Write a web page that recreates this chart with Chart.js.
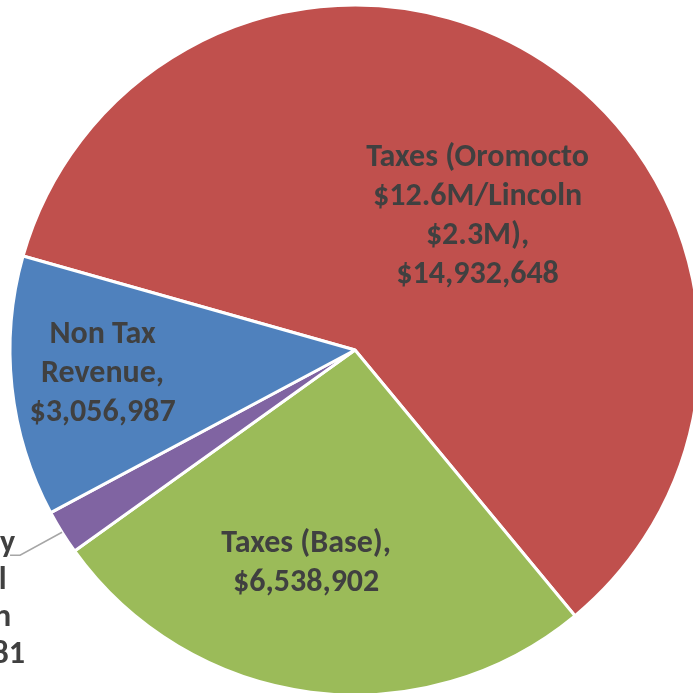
<!DOCTYPE html>
<html>
<head>
<meta charset="utf-8">
<script src="https://cdn.jsdelivr.net/npm/chart.js@4/dist/chart.umd.min.js"></script>
<style>
  html, body { margin: 0; padding: 0; background: #fff; overflow: hidden; width: 693px; height: 693px; }
  #wrap { position: absolute; left: -5px; top: -10px; width: 720px; height: 720px; }
</style>
</head>
<body>
<div id="wrap"><canvas id="revenuePie"></canvas></div>
<script>
// Revenue sources (order = clockwise from the red slice)
const labels = [
  ['Taxes (Oromocto', '$12.6M/Lincoln', '$2.3M),', '$14,932,648'],
  ['Taxes (Base),', '$6,538,902'],
  ['Subsidy', 'Rental', 'Lincoln', '$521,981'],
  ['Non Tax', 'Revenue,', '$3,056,987']
];
const values = [14932648, 6538902, 521981, 3056987];
const colors = ['#C0504D', '#9BBB59', '#8064A2', '#4F81BD'];

// where each label sits: fraction of radius + small angle nudge (deg); outside = leader line
const labelPlace = [
  { frac: 0.525, da: 9.5 },
  { frac: 0.635, da: 5.5 },
  { outside: true },
  { frac: 0.735, da: 0.8 }
];

// use Carlito (Calibri metrics) if it happens to be there, else Open Sans
function pickFont() {
  const c = document.createElement('canvas').getContext('2d');
  c.font = 'bold 30px monospace';
  const base = c.measureText('Taxes (Oromocto $14,932,648').width;
  c.font = 'bold 30px Carlito, monospace';
  const test = c.measureText('Taxes (Oromocto $14,932,648').width;
  return base !== test ? 'bold 32px Carlito' : 'bold 28px "Open Sans", sans-serif';
}
const FONT = pickFont();
const LINE_H = 39;

const sliceLabels = {
  id: 'sliceLabels',
  afterDatasetsDraw(chart) {
    const ctx = chart.ctx;
    const meta = chart.getDatasetMeta(0);
    ctx.save();
    ctx.font = FONT;
    ctx.fillStyle = '#404040';
    ctx.textAlign = 'center';
    ctx.textBaseline = 'middle';
    meta.data.forEach((arc, i) => {
      const p = arc.getProps(['x', 'y', 'startAngle', 'endAngle', 'outerRadius'], true);
      const lines = labels[i];
      const place = labelPlace[i];
      const mid = (p.startAngle + p.endAngle) / 2;
      if (place.outside) {
        const x0 = p.x + Math.cos(mid) * p.outerRadius;
        const y0 = p.y + Math.sin(mid) * p.outerRadius;
        const x1 = x0 - 42, y1 = y0 + 23;
        const x2 = x1 - 10;
        ctx.beginPath();
        ctx.moveTo(x0, y0);
        ctx.lineTo(x1, y1);
        ctx.lineTo(x2, y1);
        ctx.strokeStyle = '#A6A6A6';
        ctx.lineWidth = 1.5;
        ctx.stroke();
        const cx = x2 - 46;
        lines.forEach((t, k) => ctx.fillText(t, cx, y1 - 11 + k * 37));
        return;
      }
      const a = mid + place.da * Math.PI / 180;
      const cx = p.x + Math.cos(a) * p.outerRadius * place.frac;
      const cy = p.y + Math.sin(a) * p.outerRadius * place.frac;
      const top = cy - (lines.length - 1) * LINE_H / 2;
      lines.forEach((t, k) => ctx.fillText(t, cx, top + k * LINE_H));
    });
    ctx.restore();
  }
};

new Chart(document.getElementById('revenuePie'), {
  type: 'pie',
  data: {
    labels: labels.map(l => l.join(' ')),
    datasets: [{
      data: values,
      backgroundColor: colors,
      borderColor: '#ffffff',
      borderWidth: 3
    }]
  },
  options: {
    responsive: true,
    maintainAspectRatio: false,
    animation: false,
    rotation: 285.8,
    radius: 345,
    layout: { padding: 0 },
    plugins: {
      legend: { display: false },
      tooltip: { enabled: false }
    }
  },
  plugins: [sliceLabels]
});
</script>
</body>
</html>
